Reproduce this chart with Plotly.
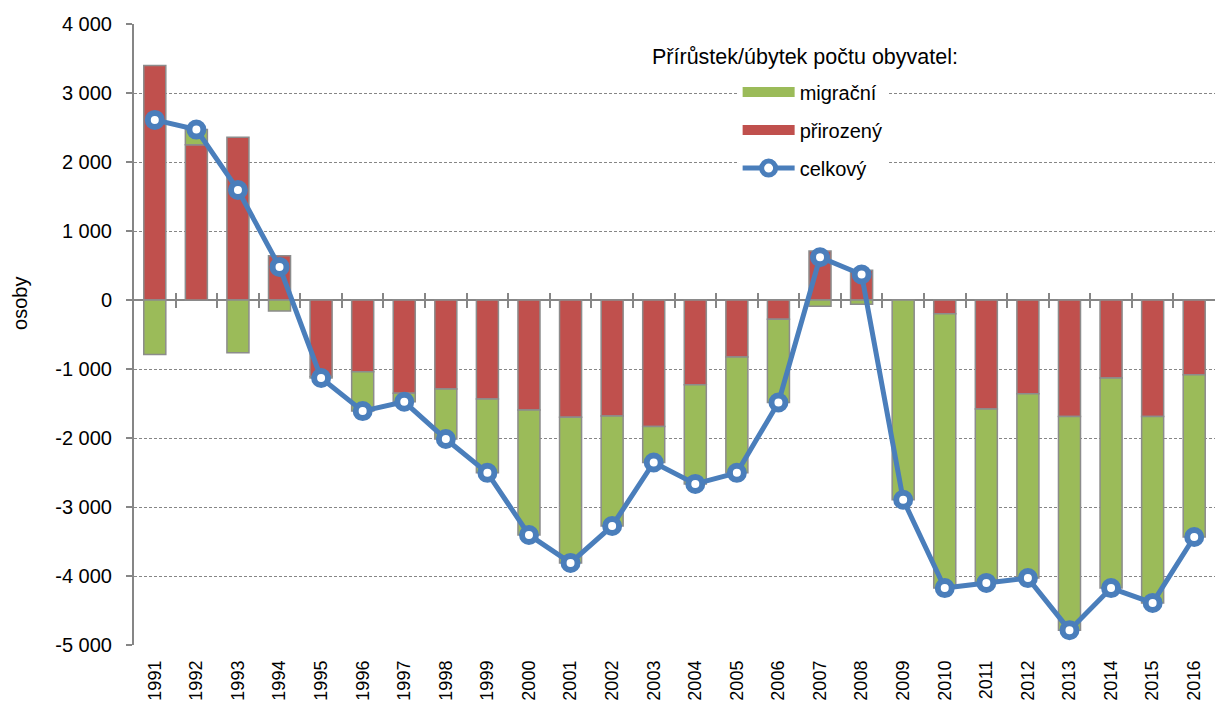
import plotly.graph_objects as go

years = [str(y) for y in range(1991, 2017)]
prirozeny = [3400, 2250, 2360, 640, -1110, -1040, -1350, -1290, -1435, -1595,
             -1700, -1680, -1835, -1230, -825, -280, 710, 430, 0, -200,
             -1580, -1360, -1690, -1130, -1690, -1085]
migracni = [-790, 220, -765, -160, -20, -570, -125, -725, -1070, -1810,
            -2110, -1595, -520, -1435, -1680, -1205, -90, -60, -2895, -3975,
            -2520, -2670, -3095, -3045, -2700, -2350]
celkovy = [2610, 2470, 1595, 480, -1130, -1610, -1475, -2015, -2505, -3405,
           -3810, -3275, -2355, -2665, -2505, -1485, 620, 370, -2895, -4175,
           -4100, -4030, -4785, -4175, -4390, -3435]
y_tick_vals = [4000, 3000, 2000, 1000, 0, -1000, -2000, -3000, -4000, -5000]
y_tick_text = ["4 000", "3 000", "2 000", "1 000", "0", "-1 000", "-2 000",
               "-3 000", "-4 000", "-5 000"]
legend_title = "Přírůstek/úbytek počtu obyvatel:"
y_title = "osoby"

FONT = "Liberation Sans, Arial, sans-serif"
GRID = "#868686"
GREEN = "#9BBB59"
RED = "#C0504D"
BLUE = "#4A7EBB"
idx = list(range(len(years)))

fig = go.Figure()
fig.add_trace(go.Bar(
    x=idx, y=prirozeny, name="přirozený",
    marker=dict(color=RED, line=dict(color="#8c8c8c", width=1.5)),
    showlegend=False, legendgroup="b", hoverinfo="skip"))
fig.add_trace(go.Bar(
    x=idx, y=migracni, name="migrační",
    marker=dict(color=GREEN, line=dict(color="#8c8c8c", width=1.5)),
    showlegend=False, legendgroup="a", hoverinfo="skip"))
fig.add_trace(go.Scatter(
    x=idx, y=celkovy, name="celkový", mode="lines+markers",
    line=dict(color=BLUE, width=5),
    marker=dict(symbol="circle", size=14, color="white",
                line=dict(color=BLUE, width=6)),
    legendrank=3, legendgroup="c", hoverinfo="skip"))

# legend entries (wide swatches like the original)
fig.add_trace(go.Scatter(
    x=[None], y=[None], name="migrační", mode="lines",
    line=dict(color=GREEN, width=11), legendrank=1, legendgroup="a",
    hoverinfo="skip"))
fig.add_trace(go.Scatter(
    x=[None], y=[None], name="přirozený", mode="lines",
    line=dict(color=RED, width=11), legendrank=2, legendgroup="b",
    hoverinfo="skip"))

boundaries = [i + 0.5 for i in idx[:-1]]
zero_pos = 5 / 9

fig.update_layout(
    width=1219, height=704,
    margin=dict(l=134, r=4, t=24, b=59, autoexpand=False),
    paper_bgcolor="white", plot_bgcolor="white",
    barmode="relative", bargap=0.47,
    font=dict(family=FONT, size=19, color="#000000"),
    showlegend=True,
    legend=dict(
        x=0.5584, y=0.9217, xanchor="left", yanchor="top",
        bgcolor="white", borderwidth=0,
        font=dict(family=FONT, size=20, color="#000000"),
        tracegroupgap=9, traceorder="grouped", itemwidth=52,
    ),
    xaxis=dict(
        range=[-0.5, 25.5], tickmode="array", tickvals=idx, ticktext=years,
        tickangle=-90, showgrid=False, zeroline=False, showline=False,
        ticks="", tickfont=dict(size=18), fixedrange=True, automargin=False,
        ticklabelstandoff=11,
    ),
    xaxis2=dict(
        overlaying="x", anchor="free", position=zero_pos, side="bottom",
        range=[-0.5, 25.5], tickmode="array", tickvals=boundaries,
        showticklabels=False, ticks="outside", ticklen=7, tickwidth=1.5,
        tickcolor=GRID, showgrid=False, zeroline=False, showline=False,
        automargin=False, fixedrange=True,
    ),
    xaxis3=dict(
        overlaying="x", anchor="free", position=zero_pos, side="top",
        range=[-0.5, 25.5], tickmode="array", tickvals=boundaries,
        showticklabels=False, ticks="outside", ticklen=7, tickwidth=1.5,
        tickcolor=GRID, showgrid=False, zeroline=False, showline=False,
        automargin=False, fixedrange=True,
    ),
    yaxis=dict(
        range=[-5000, 4000], tickmode="array", tickvals=y_tick_vals,
        ticktext=y_tick_text, showgrid=True, gridcolor=GRID, gridwidth=1,
        griddash="3px,2px", zeroline=True, zerolinecolor=GRID,
        zerolinewidth=2, showline=True, linecolor=GRID, linewidth=2,
        ticks="outside", ticklen=6, tickcolor=GRID, tickwidth=1.5,
        tickfont=dict(size=20), fixedrange=True, automargin=False,
        ticklabelstandoff=10,
    ),
    annotations=[
        dict(text=legend_title, xref="paper", yref="paper",
             x=0.6207, y=0.9469, xanchor="center", yanchor="middle",
             showarrow=False, font=dict(family=FONT, size=21.5, color="#000000")),
        dict(text=y_title, xref="paper", yref="paper", textangle=-90,
             x=-0.1055, y=0.5507, xanchor="center", yanchor="middle",
             showarrow=False, font=dict(family=FONT, size=20, color="#000000")),
    ],
)

# invisible helper traces so the overlay tick axes get drawn
fig.add_trace(go.Scatter(x=idx, y=celkovy, xaxis="x2", mode="none",
                         showlegend=False, hoverinfo="skip", opacity=0))
fig.add_trace(go.Scatter(x=idx, y=celkovy, xaxis="x3", mode="none",
                         showlegend=False, hoverinfo="skip", opacity=0))

fig.write_html("out.html", config={"displayModeBar": False},
               post_script="document.body.style.margin='0';")
